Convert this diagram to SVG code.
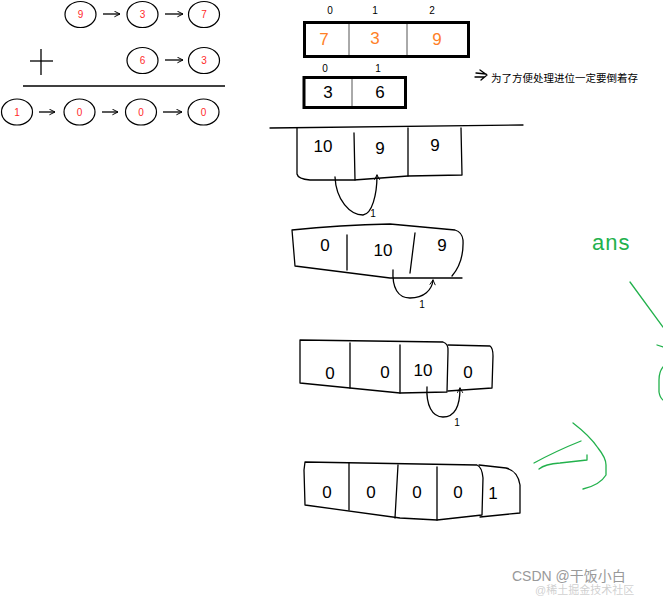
<svg xmlns="http://www.w3.org/2000/svg" width="663" height="598" viewBox="0 0 663 598">
<style>
.nd{fill:#fff;stroke:#000;stroke-width:1.2}
.nt{font-family:"Liberation Sans",Arial,sans-serif;font-size:10px;fill:#ff2a2a;text-anchor:middle;dominant-baseline:central}
.cn{stroke:#000;stroke-width:1.3;fill:none}
.hd{stroke:#000;stroke-width:1.3;fill:none;stroke-linecap:round;stroke-linejoin:round}
.ar{fill:#fff;stroke:#000;stroke-width:3}
.dv{stroke:#555;stroke-width:1;fill:none}
.hw{font-family:"Liberation Sans",Arial,sans-serif;font-size:17px;text-anchor:middle;dominant-baseline:central;fill:#000}
.ix{font-family:"Liberation Sans",Arial,sans-serif;font-size:10px;text-anchor:middle;dominant-baseline:central;fill:#000}
.og{fill:#ff7f27}
.gr{stroke:#22b14c;stroke-width:1.3;fill:none;stroke-linecap:round;stroke-linejoin:round}
.wm{font-family:"Liberation Sans","Noto Sans CJK SC",sans-serif}
</style>
<defs>
<marker id="ah" viewBox="0 0 10 10" refX="9" refY="5" markerWidth="7" markerHeight="7" orient="auto" markerUnits="userSpaceOnUse">
<path d="M1,1 L9,5 L1,9" fill="none" stroke="#000" stroke-width="1.4"/>
</marker>
<marker id="hh" viewBox="0 0 10 10" refX="8" refY="5" markerWidth="7" markerHeight="7" orient="auto" markerUnits="userSpaceOnUse">
<path d="M1,1 L8,5 L1,9" fill="none" stroke="#000" stroke-width="1.3"/>
</marker>
</defs>

<g id="list-top">
<g id="n9"><ellipse class="nd" cx="80.5" cy="14.5" rx="15.5" ry="13"/><text class="nt" x="80.5" y="14.5">9</text></g>
<g id="n3a"><ellipse class="nd" cx="142.5" cy="14.5" rx="15.5" ry="13"/><text class="nt" x="142.5" y="14.5">3</text></g>
<g id="n7"><ellipse class="nd" cx="204" cy="14.5" rx="15.5" ry="13"/><text class="nt" x="204" y="14.5">7</text></g>
</g>
<g id="list-mid">
<g id="n6"><ellipse class="nd" cx="142.5" cy="60.5" rx="15.5" ry="13"/><text class="nt" x="142.5" y="60.5">6</text></g>
<g id="n3b"><ellipse class="nd" cx="204" cy="60.5" rx="15.5" ry="13"/><text class="nt" x="204" y="60.5">3</text></g>
</g>
<g id="plus">
<line x1="30" y1="61" x2="53" y2="61" stroke="#000" stroke-width="1.3"/>
<line x1="41" y1="49" x2="41" y2="75" stroke="#000" stroke-width="1.3"/>
</g>
<line id="sum-line" x1="23" y1="86" x2="225" y2="86" stroke="#000" stroke-width="1.3"/>
<g id="list-res">
<g id="r1"><ellipse class="nd" cx="17" cy="112" rx="15.5" ry="13"/><text class="nt" x="17" y="112">1</text></g>
<g id="r0a"><ellipse class="nd" cx="79.5" cy="112" rx="15.5" ry="13"/><text class="nt" x="79.5" y="112">0</text></g>
<g id="r0b"><ellipse class="nd" cx="141" cy="112" rx="15.5" ry="13"/><text class="nt" x="141" y="112">0</text></g>
<g id="r0c"><ellipse class="nd" cx="203.5" cy="112" rx="15.5" ry="13"/><text class="nt" x="203.5" y="112">0</text></g>
</g>

<g id="array-a">
<rect class="ar" x="304.5" y="22.5" width="164" height="34"/>
<line class="dv" x1="349" y1="24" x2="349" y2="55"/>
<line class="dv" x1="407" y1="24" x2="407" y2="55"/>
<text class="ix" x="330" y="10">0</text><text class="ix" x="375" y="10">1</text><text class="ix" x="432" y="10">2</text>
<text class="hw og" x="324" y="39">7</text><text class="hw og" x="375" y="38">3</text><text class="hw og" x="437" y="39">9</text>
</g>
<g id="array-b">
<rect class="ar" x="304" y="77.5" width="101.5" height="30"/>
<line class="dv" x1="352" y1="79" x2="352" y2="106"/>
<text class="ix" x="325" y="68">0</text><text class="ix" x="378" y="68">1</text>
<text class="hw" x="328" y="92">3</text><text class="hw" x="380" y="92">6</text>
</g>
<g id="note">
<path class="hd" d="M476,73 L486,74 M480,70 L487,75 L481,80 M475,77 L484,77"/>
<text x="491" y="77" font-family="'Noto Sans CJK SC',sans-serif" font-size="10.5px" dominant-baseline="central">为了方便处理进位一定要倒着存</text>
</g>

<line id="split-line" class="hd" x1="270" y1="128" x2="523" y2="125"/>

<g id="step1">
<path class="hd" d="M297,128 L297,174 Q298,179 310,180 L354,180 L408,176 L462,175 L461,128"/>
<path class="hd" d="M354,133 L355,180 M408,128 L408,176"/>
<text class="hw" x="323" y="146">10</text><text class="hw" x="380" y="148">9</text><text class="hw" x="435" y="145">9</text>
</g>
<g id="step2">
<path class="hd" d="M292,230 Q340,225 390,224 L455,230 Q462,232 463,240 Q464,262 452,276 M292,230 L295,266 L390,278 L462,278"/>
<path class="hd" d="M347,235 L347,270 M415,233 L410,273"/>
<text class="hw" x="325" y="245">0</text><text class="hw" x="383" y="250">10</text><text class="hw" x="442" y="245">9</text>
</g>
<g id="step3">
<path class="hd" d="M300,340 L443,342 Q449,344 448,352 L447,392 L400,393 L300,383 Z"/>
<path class="hd" d="M448,345 L490,346 Q493,348 493,356 L492,388 L448,391"/>
<path class="hd" d="M350,343 L350,388 M400,345 L400,393"/>
<text class="hw" x="330" y="373">0</text><text class="hw" x="385" y="372">0</text><text class="hw" x="423" y="370">10</text><text class="hw" x="468" y="372">0</text>
</g>
<g id="step4">
<path class="hd" d="M305,462 L477,465 Q482,467 483,478 L482,515 L437,520 L400,518 L305,505 L304,470 Z"/>
<path class="hd" d="M479,465 L506,468 Q518,471 520,485 L520,513 L480,517"/>
<path class="hd" d="M349,463 L349,510 M398,465 L395,518 M437,467 L437,520"/>
<text class="hw" x="327" y="492">0</text><text class="hw" x="371" y="492">0</text><text class="hw" x="417" y="492">0</text><text class="hw" x="458" y="492">0</text><text class="hw" x="493" y="493">1</text>
</g>

<g id="connectors">
<line class="cn" x1="103" y1="14" x2="120" y2="14" marker-end="url(#ah)"/>
<line class="cn" x1="165" y1="14" x2="183" y2="14" marker-end="url(#ah)"/>
<line class="cn" x1="165" y1="60" x2="183" y2="60" marker-end="url(#ah)"/>
<line class="cn" x1="39" y1="112" x2="55" y2="112" marker-end="url(#ah)"/>
<line class="cn" x1="102" y1="112" x2="118" y2="112" marker-end="url(#ah)"/>
<line class="cn" x1="163" y1="112" x2="182" y2="112" marker-end="url(#ah)"/>
<path class="hd" d="M335,177 C336,200 350,215 363,215 C372,214 377,195 377,175" marker-end="url(#hh)"/>
<path class="hd" d="M393,270 C392,288 398,298 410,298 C424,298 432,290 433,280" marker-end="url(#hh)"/>
<path class="hd" d="M427,387 C426,405 432,417 443,417 C455,417 460,405 460,388" marker-end="url(#hh)"/>
</g>
<g id="carry-labels">
<text class="ix" x="373" y="213">1</text>
<text class="ix" x="422" y="304">1</text>
<text class="ix" x="457" y="422">1</text>
</g>

<g id="green">
<text x="592" y="250" font-family="'Liberation Sans',sans-serif" font-size="22px" fill="#22b14c" letter-spacing="1">ans</text>
<path class="gr" d="M630,282 L663,327"/>
<path class="gr" d="M657,345 L663,347"/>
<path class="gr" d="M663,367 Q659,372 659,380 L659,392 Q660,398 663,400"/>
<path class="gr" d="M573,423 Q590,436 598,448 Q606,458 606,465 L606,475 Q600,485 583,489"/>
<path class="gr" d="M534,463 Q556,451 581,441"/>
<path class="gr" d="M539,469 Q545,464 560,463 L587,460 L587,455"/>
</g>

<g id="watermark">
<text class="wm" x="512" y="581" font-size="14px" fill="#999">CSDN @干饭小白</text>
<text class="wm" x="535" y="594" font-size="11px" fill="#bbb" fill-opacity="0.7">@稀土掘金技术社区</text>
</g>
</svg>
